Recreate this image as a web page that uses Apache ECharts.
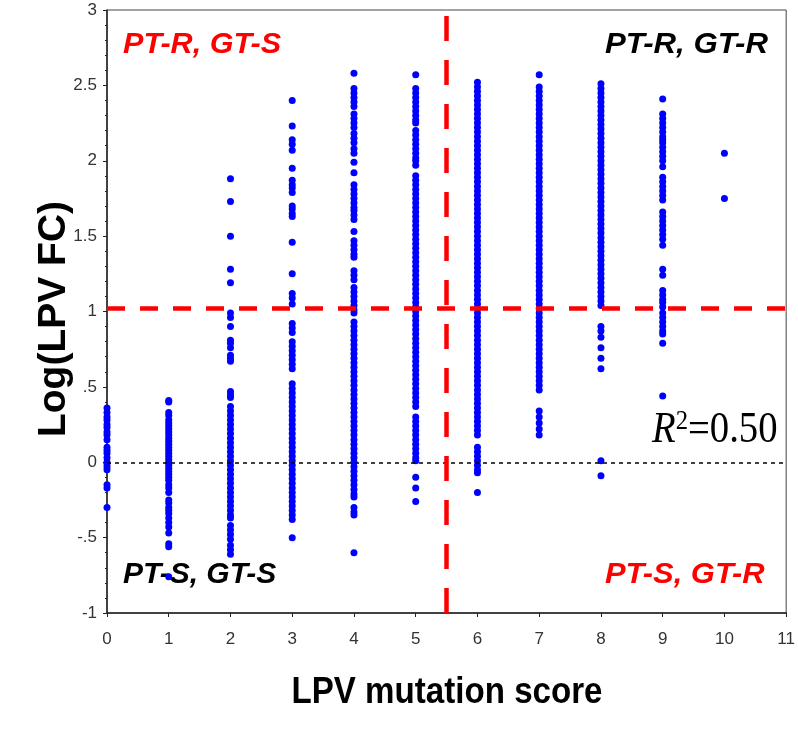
<!DOCTYPE html>
<html>
<head>
<meta charset="utf-8">
<script src="https://cdn.jsdelivr.net/npm/echarts@6/dist/echarts.min.js"></script>
<style>
html,body{margin:0;padding:0;background:#fff;}
#chart{width:798px;height:737px;}
</style>
</head>
<body>
<div id="chart"></div>
<script>
// LPV mutation score (x) categories
const scores = [0,1,2,3,4,5,6,7,8,9,10];
// Log(LPV FC) values per mutation score column
const c0 = [0.36, 0.33, 0.3, 0.28, 0.25, 0.23, 0.2, 0.18, 0.15, 0.1, 0.08, 0.06, 0.03, 0.0, -0.01, -0.03, -0.05, -0.15, -0.17, -0.3];
const c1 = [0.41, 0.4, 0.33, 0.31, 0.28, 0.26, 0.24, 0.22, 0.2, 0.18, 0.16, 0.14, 0.12, 0.1, 0.08, 0.06, 0.04, 0.02, 0.0, -0.02, -0.04, -0.06, -0.08, -0.1, -0.12, -0.15, -0.17, -0.2, -0.25, -0.27, -0.3, -0.32, -0.34, -0.37, -0.4, -0.43, -0.47, -0.54, -0.56, -0.76];
const c2 = [1.88, 1.73, 1.5, 1.28, 1.19, 0.99, 0.96, 0.9, 0.81, 0.79, 0.76, 0.71, 0.69, 0.67, 0.47, 0.45, 0.43, 0.37, 0.34, 0.31, 0.28, 0.25, 0.22, 0.19, 0.16, 0.13, 0.1, 0.07, 0.04, 0.01, -0.02, -0.05, -0.08, -0.11, -0.14, -0.17, -0.2, -0.23, -0.26, -0.29, -0.32, -0.35, -0.37, -0.42, -0.45, -0.48, -0.51, -0.55, -0.58, -0.61];
const c3 = [2.4, 2.23, 2.14, 2.11, 2.07, 1.95, 1.87, 1.84, 1.82, 1.79, 1.7, 1.68, 1.65, 1.63, 1.46, 1.25, 1.12, 1.09, 1.05, 0.92, 0.89, 0.86, 0.8, 0.77, 0.74, 0.71, 0.68, 0.65, 0.62, 0.52, 0.49, 0.46, 0.43, 0.4, 0.37, 0.34, 0.31, 0.28, 0.25, 0.22, 0.19, 0.16, 0.13, 0.1, 0.07, 0.04, 0.01, -0.02, -0.05, -0.08, -0.11, -0.14, -0.17, -0.2, -0.23, -0.26, -0.29, -0.32, -0.35, -0.38, -0.5];
const c4 = [2.58, 2.48, 2.45, 2.42, 2.39, 2.36, 2.31, 2.28, 2.25, 2.22, 2.18, 2.15, 2.12, 2.08, 2.05, 1.99, 1.92, 1.84, 1.81, 1.78, 1.75, 1.72, 1.69, 1.67, 1.64, 1.61, 1.53, 1.47, 1.44, 1.41, 1.38, 1.36, 1.27, 1.24, 1.21, 1.16, 1.13, 1.1, 1.07, 1.04, 1.01, 0.99, 0.93, 0.9, 0.87, 0.84, 0.81, 0.78, 0.75, 0.72, 0.69, 0.66, 0.63, 0.6, 0.57, 0.54, 0.51, 0.48, 0.45, 0.42, 0.39, 0.36, 0.33, 0.3, 0.27, 0.24, 0.21, 0.18, 0.15, 0.12, 0.09, 0.06, 0.03, 0.0, -0.03, -0.06, -0.09, -0.12, -0.15, -0.18, -0.21, -0.23, -0.3, -0.33, -0.35, -0.6];
const c5 = [2.57, 2.48, 2.45, 2.42, 2.39, 2.36, 2.33, 2.3, 2.27, 2.25, 2.2, 2.17, 2.14, 2.11, 2.08, 2.05, 2.02, 2.0, 1.97, 1.9, 1.87, 1.84, 1.81, 1.78, 1.75, 1.72, 1.69, 1.66, 1.63, 1.6, 1.57, 1.54, 1.51, 1.48, 1.45, 1.42, 1.39, 1.36, 1.33, 1.3, 1.27, 1.24, 1.21, 1.18, 1.15, 1.12, 1.09, 1.06, 1.03, 1.0, 0.97, 0.94, 0.91, 0.88, 0.85, 0.82, 0.79, 0.76, 0.73, 0.7, 0.67, 0.64, 0.61, 0.58, 0.55, 0.52, 0.49, 0.46, 0.43, 0.4, 0.37, 0.3, 0.27, 0.24, 0.21, 0.18, 0.15, 0.12, 0.09, 0.06, 0.03, 0.01, -0.1, -0.17, -0.26];
const c6 = [2.52, 2.49, 2.46, 2.43, 2.4, 2.37, 2.34, 2.31, 2.28, 2.25, 2.22, 2.19, 2.16, 2.13, 2.1, 2.07, 2.04, 2.01, 1.98, 1.95, 1.92, 1.89, 1.86, 1.83, 1.8, 1.77, 1.74, 1.71, 1.68, 1.65, 1.62, 1.59, 1.56, 1.53, 1.5, 1.47, 1.44, 1.41, 1.38, 1.35, 1.32, 1.29, 1.26, 1.23, 1.2, 1.17, 1.14, 1.11, 1.08, 1.05, 1.02, 0.99, 0.96, 0.93, 0.9, 0.87, 0.84, 0.81, 0.78, 0.75, 0.72, 0.69, 0.66, 0.63, 0.6, 0.57, 0.54, 0.51, 0.48, 0.45, 0.42, 0.39, 0.36, 0.33, 0.3, 0.27, 0.24, 0.21, 0.18, 0.1, 0.07, 0.04, 0.01, -0.02, -0.05, -0.07, -0.2];
const c7 = [2.57, 2.49, 2.46, 2.43, 2.4, 2.37, 2.34, 2.31, 2.28, 2.25, 2.22, 2.19, 2.16, 2.13, 2.1, 2.07, 2.04, 2.01, 1.98, 1.95, 1.92, 1.89, 1.86, 1.83, 1.8, 1.77, 1.74, 1.71, 1.68, 1.65, 1.62, 1.59, 1.56, 1.53, 1.5, 1.47, 1.44, 1.41, 1.38, 1.35, 1.32, 1.29, 1.26, 1.23, 1.2, 1.17, 1.14, 1.11, 1.08, 1.05, 1.02, 0.99, 0.96, 0.93, 0.9, 0.87, 0.84, 0.81, 0.78, 0.75, 0.72, 0.69, 0.66, 0.63, 0.6, 0.57, 0.54, 0.51, 0.48, 0.34, 0.3, 0.26, 0.22, 0.18];
const c8 = [2.51, 2.48, 2.45, 2.42, 2.39, 2.36, 2.33, 2.3, 2.27, 2.24, 2.21, 2.18, 2.15, 2.12, 2.09, 2.06, 2.03, 2.0, 1.97, 1.94, 1.91, 1.88, 1.85, 1.82, 1.79, 1.76, 1.73, 1.7, 1.67, 1.64, 1.61, 1.58, 1.55, 1.52, 1.49, 1.46, 1.43, 1.4, 1.37, 1.34, 1.31, 1.28, 1.25, 1.22, 1.19, 1.16, 1.13, 1.1, 1.07, 1.04, 0.9, 0.87, 0.83, 0.76, 0.69, 0.62, 0.01, -0.09];
const c9 = [2.41, 2.31, 2.28, 2.25, 2.22, 2.19, 2.16, 2.14, 2.12, 2.09, 2.06, 2.03, 2.0, 1.96, 1.89, 1.86, 1.83, 1.8, 1.77, 1.74, 1.66, 1.63, 1.6, 1.57, 1.54, 1.51, 1.48, 1.44, 1.28, 1.24, 1.14, 1.11, 1.08, 1.06, 1.03, 0.99, 0.96, 0.93, 0.9, 0.87, 0.85, 0.79, 0.44];
const c10 = [2.05, 1.75];
const columns = [c0, c1, c2, c3, c4, c5, c6, c7, c8, c9, c10];

// reference lines
const zeroLine = 0;
const fcCutoff = 1.02;
const scoreCutoff = 5.5;

// axis ranges / ticks
const xMin = 0, xMax = 11, xStep = 1;
const yMin = -1, yMax = 3, yStep = 0.5;

// annotation texts
const quadLabels = ['PT-R, GT-S', 'PT-R, GT-R', 'PT-S, GT-S', 'PT-S, GT-R'];
const r2Text = '0.50';
const xTitle = 'LPV mutation score';
const yTitle = 'Log(LPV FC)';

const points = [];
columns.forEach((col, i) => col.forEach(v => points.push([scores[i], v])));

const chart = echarts.init(document.getElementById('chart'), null, {renderer: 'canvas'});
const tickFont = '"Liberation Sans Narrow", "Arial Narrow", "Liberation Sans", Arial, sans-serif';
const labFont = '"Liberation Sans", Arial, sans-serif';
const quadFont = 'italic bold 30px ' + labFont;

chart.setOption({
  animation: false,
  backgroundColor: '#ffffff',
  grid: {left: 107, right: 8, top: 10, bottom: 124, show: true, borderColor: '#444', borderWidth: 1, backgroundColor: 'transparent'},
  xAxis: {
    type: 'value', min: xMin, max: xMax, interval: xStep,
    axisLine: {show: true, onZero: false, lineStyle: {color: '#222', width: 1.5}},
    axisTick: {show: true, length: 4, lineStyle: {color: '#222'}},
    axisLabel: {margin: 18, fontSize: 17, fontFamily: tickFont, color: '#333'},
    splitLine: {show: false}
  },
  yAxis: {
    type: 'value', min: yMin, max: yMax, interval: yStep,
    axisLine: {show: true, onZero: false, lineStyle: {color: '#222', width: 1.5}},
    axisTick: {show: true, length: 4, lineStyle: {color: '#222'}},
    minorTick: {show: true, splitNumber: 5, length: 2, lineStyle: {color: '#222'}},
    axisLabel: {margin: 10, fontSize: 17, fontFamily: tickFont, color: '#333',
      formatter: function (v) {
        if (v === 0) return '0';
        return String(v).replace(/^0\./, '.').replace(/^-0\./, '-.');
      }},
    splitLine: {show: false}
  },
  series: [{
    type: 'scatter',
    data: points,
    symbol: 'circle',
    symbolSize: 7,
    itemStyle: {color: '#0000ff', opacity: 1},
    silent: true,
    markLine: {
      silent: true,
      symbol: ['none', 'none'],
      label: {show: false},
      animation: false,
      data: [
        {yAxis: zeroLine, lineStyle: {color: '#000', type: [4, 4], width: 1.5, opacity: 1}},
        {yAxis: fcCutoff, lineStyle: {color: '#ff0000', type: [18, 15], width: 4.5, opacity: 1}},
        {xAxis: scoreCutoff, lineStyle: {color: '#ff0000', type: [25, 19], width: 4.5, opacity: 1}}
      ]
    }
  }],
  graphic: [
    {type: 'text', x: 123, y: 45, scaleX: 1.02, style: {text: quadLabels[0], font: quadFont, fill: '#ff0000', align: 'left', verticalAlign: 'middle'}},
    {type: 'text', x: 605, y: 45, scaleX: 1.04, style: {text: quadLabels[1], font: quadFont, fill: '#000', align: 'left', verticalAlign: 'middle'}},
    {type: 'text', x: 123, y: 575, scaleX: 1.0, style: {text: quadLabels[2], font: quadFont, fill: '#000', align: 'left', verticalAlign: 'middle'}},
    {type: 'text', x: 605, y: 575, scaleX: 1.03, style: {text: quadLabels[3], font: quadFont, fill: '#ff0000', align: 'left', verticalAlign: 'middle'}},
    {type: 'text', x: 652, y: 430, scaleX: 0.88,
      style: {text: '{r|R}{s|2}{n|=' + r2Text + '}', fill: '#000', align: 'left', verticalAlign: 'middle',
        rich: {
          r: {font: 'italic 44px "Liberation Serif", "Times New Roman", serif', fill: '#000'},
          s: {font: '28px "Liberation Serif", "Times New Roman", serif', fill: '#000', verticalAlign: 'top'},
          n: {font: '44px "Liberation Serif", "Times New Roman", serif', fill: '#000'}
        }}},
    {type: 'text', x: 447, y: 693, scaleX: 0.92, style: {text: xTitle, font: 'bold 36px ' + labFont, fill: '#000', align: 'center', verticalAlign: 'middle'}},
    {type: 'text', x: 54, y: 319, rotation: Math.PI / 2, style: {text: yTitle, font: 'bold 39px ' + labFont, fill: '#000', align: 'center', verticalAlign: 'middle'}}
  ]
});
</script>
</body>
</html>
